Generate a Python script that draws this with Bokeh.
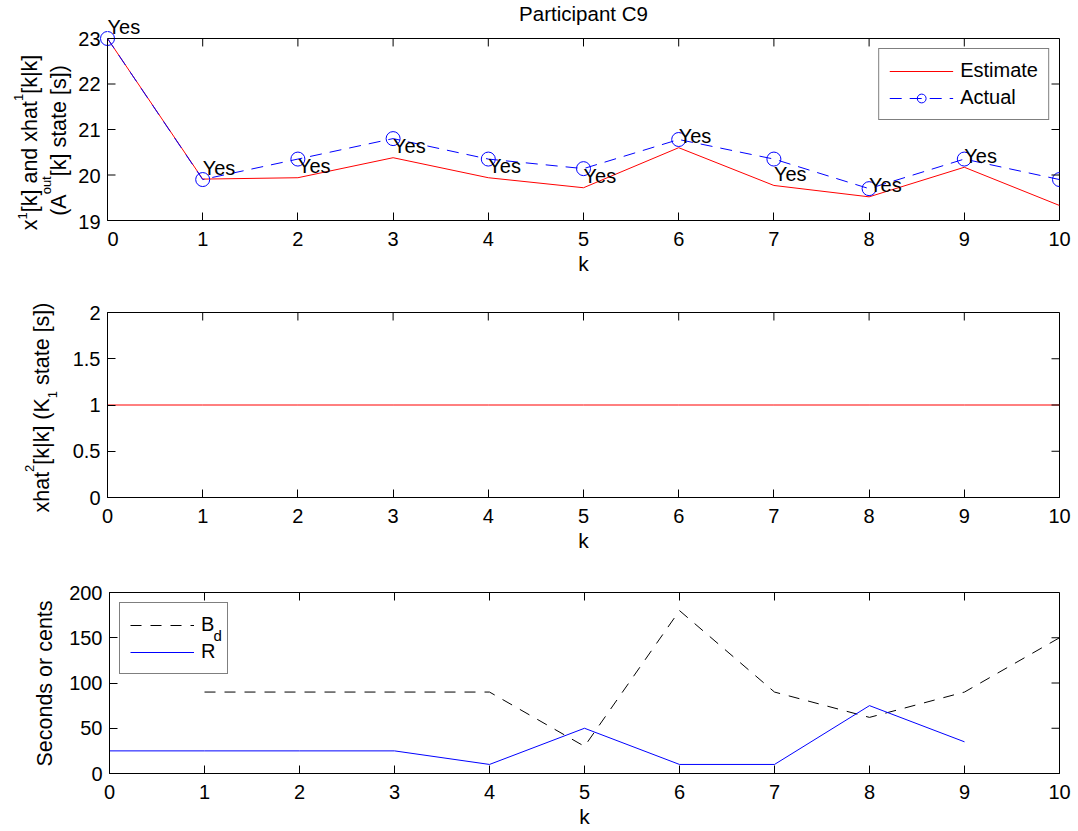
import math

from bokeh.plotting import figure
from bokeh.layouts import column, row
from bokeh.models import (ColumnDataSource, FixedTicker, Range1d, Legend,
                          LegendItem, CustomJSTickFormatter)
from bokeh.core.properties import value
from bokeh.embed import file_html
from bokeh.resources import INLINE

# ---------------------------------------------------------------- data
k = [0, 1, 2, 3, 4, 5, 6, 7, 8, 9, 10]
estimate = [23.0, 19.91, 19.94, 20.38, 19.94, 19.72, 20.60, 19.77, 19.52, 20.17, 19.33]
actual = [23.0, 19.90, 20.35, 20.80, 20.35, 20.14, 20.78, 20.35, 19.70, 20.35, 19.90]
answer_k = [0, 1, 2, 3, 4, 5, 6, 7, 8, 9]
answers = ["Yes", "Yes", "Yes", "Yes", "Yes", "Yes", "Yes", "Yes", "Yes", "Yes"]
answer_offset = 0.25          # answers are written just above the estimate

k1_state = [1, 1, 1, 1, 1, 1, 1, 1, 1, 1, 1]

bd_k = [1, 2, 3, 4, 5, 6, 7, 8, 9, 10]
bd = [90, 90, 90, 90, 30, 180, 90, 62, 90, 150]
r_k = [0, 1, 2, 3, 4, 5, 6, 7, 8, 9]
r = [25, 25, 25, 25, 10, 50, 10, 10, 75, 35]

x_ticks = [0, 1, 2, 3, 4, 5, 6, 7, 8, 9, 10]
y1_ticks = [19, 20, 21, 22, 23]
y1_labels = ["19", "20", "21", "22", "23"]
y2_ticks = [0, 0.5, 1, 1.5, 2]
y3_ticks = [0, 50, 100, 150, 200]

# ---------------------------------------------------------------- layout
W = 1078
FRAME_LEFT = 107           # left edge of every plotting frame
RIGHT = 19
FRAME_W = W - FRAME_LEFT - RIGHT
STRIP_H = 38               # strip above the first panel (title)
FONT = "Liberation Sans"
TICK_PX = "20px"
LABEL_PX = 21.5
SUP_PX = 13
TICK_LEN = 8
NBSP = "\u00a0"

# Arial / Liberation Sans advance widths (units per 1000 em)
ADV = {" ": 278, NBSP: 278, "(": 333, ")": 333, "1": 556, "2": 556, "A": 667,
       "B": 667, "K": 667, "S": 667, "[": 278, "]": 278, "a": 556, "c": 500,
       "d": 556, "e": 556, "h": 556, "k": 500, "n": 556, "o": 556, "r": 333,
       "s": 500, "t": 278, "u": 556, "x": 500, "|": 260}


def text_width(s, px):
    return sum(ADV[c] for c in s) * px / 1000.0


def plain(f):
    f.xgrid.visible = False
    f.ygrid.visible = False
    f.background_fill_color = "white"
    f.border_fill_color = "white"
    return f


def style_axis(ax):
    ax.major_tick_in = TICK_LEN
    ax.major_tick_out = 0
    ax.minor_tick_line_color = None
    ax.axis_line_color = "black"
    ax.major_tick_line_color = "black"
    ax.major_label_text_font = FONT
    ax.major_label_text_font_size = TICK_PX
    ax.major_label_text_color = "black"


def make_fig(lab_w, height, top, frame_h, yr, yticks, yfmt=None, own_yaxis=True):
    bottom = height - top - frame_h
    p = plain(figure(width=W - lab_w, height=height, x_range=Range1d(0, 10),
                     y_range=Range1d(*yr), output_backend="svg",
                     toolbar_location=None, frame_align=False,
                     y_axis_location="left" if own_yaxis else None,
                     min_border_left=FRAME_LEFT - lab_w, min_border_right=RIGHT,
                     min_border_top=top, min_border_bottom=bottom))
    p.outline_line_color = "black"
    p.outline_line_width = 1

    p.xaxis.ticker = FixedTicker(ticks=x_ticks)
    style_axis(p.xaxis[0])
    p.xaxis.major_label_standoff = 11
    p.xaxis.axis_label = "k"
    p.xaxis.axis_label_text_font = FONT
    p.xaxis.axis_label_text_font_size = "21px"
    p.xaxis.axis_label_text_font_style = "normal"
    p.xaxis.axis_label_text_color = "black"
    p.xaxis.axis_label_standoff = 3
    if own_yaxis:
        p.yaxis.ticker = FixedTicker(ticks=yticks)
        if yfmt is not None:
            p.yaxis.formatter = yfmt
        style_axis(p.yaxis[0])
        p.yaxis.major_label_standoff = 7
    return p


def box_ticks(p, yr, frame_h, yticks, left=False):
    """Inward tick marks on the top and right (and optionally left) edges."""
    y0, y1 = yr
    dy = TICK_LEN * (y1 - y0) / frame_h
    dx = TICK_LEN * 10.0 / FRAME_W
    p.segment(x0=x_ticks, y0=[y1] * len(x_ticks), x1=x_ticks,
              y1=[y1 - dy] * len(x_ticks), line_color="black", line_width=1)
    p.segment(x0=[10] * len(yticks), y0=yticks, x1=[10 - dx] * len(yticks),
              y1=yticks, line_color="black", line_width=1)
    if left:
        p.segment(x0=[0] * len(yticks), y0=yticks, x1=[dx] * len(yticks),
                  y1=yticks, line_color="black", line_width=1)


def label_fig(lab_w, height):
    f = plain(figure(width=lab_w, height=height, x_range=Range1d(0, lab_w),
                     y_range=Range1d(0, height), output_backend="svg",
                     toolbar_location=None, x_axis_location=None,
                     y_axis_location=None, min_border=0, frame_align=False))
    f.outline_line_color = None
    return f


def vertical_label(f, pieces, center_x, center_y, height):
    """Rotated text made of pieces (text, font px, shift toward the glyph tops)."""
    total = sum(text_width(t, fs) for t, fs, _ in pieces)
    y = (height - center_y) - total / 2.0
    for t, fs, rise in pieces:
        f.text(x=[center_x - rise], y=[y], text=[t], angle=math.pi / 2,
               text_font=value(FONT), text_font_size=value(f"{fs}px"),
               text_color="black", text_align="left", text_baseline="middle")
        y += text_width(t, fs)


def legend_for(items, location, fill_alpha=1.0, label_width=20):
    return Legend(items=items, location=location, margin=10, padding=10, spacing=4,
                  glyph_width=64, glyph_height=22, label_height=22, label_standoff=7,
                  label_width=label_width,
                  label_text_font=FONT, label_text_font_size="20px",
                  label_text_color="black",
                  border_line_color="black", border_line_width=1,
                  background_fill_color="white", background_fill_alpha=fill_alpha)


# ---------------------------------------------------------------- panel 1
H1 = 277
F1_H = 183
px_x = FRAME_W / 10.0
px_y = F1_H / 4.0
p1 = make_fig(FRAME_LEFT, H1 - STRIP_H, 0, F1_H, (19, 23), y1_ticks, own_yaxis=False)
src1 = ColumnDataSource(data=dict(k=k, estimate=estimate, actual=actual))
est_line = p1.line("k", "estimate", source=src1, line_color="#ff0000", line_width=1)
act_line = p1.line("k", "actual", source=src1, line_color="#0000ff", line_width=1,
                   line_dash="12 8")
act_pts = p1.scatter("k", "actual", source=src1, marker="circle", size=14,
                     fill_color=None, line_color="#0000ff", line_width=1)
box_ticks(p1, (19, 23), F1_H, y1_ticks, left=True)

ans_y = [estimate[i] + answer_offset for i in answer_k]
inside = [i for i, v in enumerate(ans_y) if v <= 23]
above = [i for i, v in enumerate(ans_y) if v > 23]
p1.text(x=[answer_k[i] for i in inside], y=[ans_y[i] for i in inside],
        text=[answers[i] for i in inside], text_font=value(FONT),
        text_font_size=value("20px"), text_color="black",
        text_align="left", text_baseline="middle")

p1.add_layout(legend_for([LegendItem(label="Estimate", renderers=[est_line]),
                          LegendItem(label="Actual", renderers=[act_line, act_pts])],
                         "top_right"))

# strip above panel 1 continues its data coordinates upward
strip = plain(figure(width=W - FRAME_LEFT, height=STRIP_H,
                     x_range=Range1d(0, 10 + RIGHT / px_x),
                     y_range=Range1d(23, 23 + STRIP_H / px_y),
                     output_backend="svg", toolbar_location=None, frame_align=False,
                     x_axis_location=None, y_axis_location=None, min_border=0))
strip.outline_line_color = None
strip.scatter("k", "actual", source=src1, marker="circle", size=14,
              fill_color=None, line_color="#0000ff", line_width=1)
strip.text(x=[answer_k[i] for i in above], y=[ans_y[i] for i in above],
           text=[answers[i] for i in above], text_font=value(FONT),
           text_font_size=value("20px"), text_color="black",
           text_align="left", text_baseline="middle")
strip.text(x=[5], y=[23 + (STRIP_H - 13) / px_y], text=["Participant C9"],
           text_font=value(FONT), text_font_size=value("20.5px"), text_color="black",
           text_align="center", text_baseline="middle")

# left column of panel 1: y tick labels and the two-line axis title (pixel units)
lab1 = label_fig(FRAME_LEFT, H1)


def to_lab1_y(v):
    return H1 - (STRIP_H + (23 - v) * px_y)


lab1.text(x=[FRAME_LEFT - 7] * len(y1_ticks), y=[to_lab1_y(v) for v in y1_ticks],
          text=y1_labels, text_font=value(FONT), text_font_size=value(TICK_PX),
          text_color="black", text_align="right", text_baseline="middle")
lab1.scatter(x=[FRAME_LEFT + v * px_x for v in k], y=[to_lab1_y(v) for v in actual],
             marker="circle", size=14, fill_color=None, line_color="#0000ff",
             line_width=1)
vertical_label(lab1, [("x", LABEL_PX, 0), ("1", SUP_PX, 7), ("[k] and xhat", LABEL_PX, 0),
                      ("1", SUP_PX, 11), ("[k|k]", LABEL_PX, 0)],
               center_x=29, center_y=142, height=H1)
vertical_label(lab1, [("(A", LABEL_PX, 0), ("out", SUP_PX, 12.5),
                      ("[k] state [s])", LABEL_PX, 0)],
               center_x=58, center_y=140, height=H1)

# ---------------------------------------------------------------- panel 2
LAB2 = 68
H2 = 277
fmt = CustomJSTickFormatter(code="return String(tick);")
p2 = make_fig(LAB2, H2, 35, 185, (0, 2), y2_ticks, yfmt=fmt)
src2 = ColumnDataSource(data=dict(k=k, v=k1_state))
p2.line("k", "v", source=src2, line_color="#ff0000", line_width=1)
box_ticks(p2, (0, 2), 185, y2_ticks)
lab2 = label_fig(LAB2, H2)
vertical_label(lab2, [("xhat", LABEL_PX, 0), ("2", SUP_PX, 13), ("[k|k] (K", LABEL_PX, 0),
                      ("1", SUP_PX, -10), (NBSP + "state [s])", LABEL_PX, 0)],
               center_x=41.5, center_y=130, height=H2)

# ---------------------------------------------------------------- panel 3
LAB3 = 66
H3 = 277
p3 = make_fig(LAB3, H3, 38, 181, (0, 200), y3_ticks)
bd_src = ColumnDataSource(data=dict(k=bd_k, v=bd))
r_src = ColumnDataSource(data=dict(k=r_k, v=r))
bd_line = p3.line("k", "v", source=bd_src, line_color="black", line_width=1,
                  line_dash="11 9")
r_line = p3.line("k", "v", source=r_src, line_color="#0000ff", line_width=1)
box_ticks(p3, (0, 200), 181, y3_ticks)
p3.add_layout(legend_for([LegendItem(label="B", renderers=[bd_line]),
                          LegendItem(label="R", renderers=[r_line])], "top_left",
                         fill_alpha=0.0, label_width=16))
# subscript of the B_d entry, placed after the "B" of the legend
sub_dx = 10 + 10 + 64 + 7 + text_width("B", 20)
sub_dy = 10 + 10 + 11 + 12
p3.text(x=[sub_dx * 10.0 / FRAME_W], y=[200 - sub_dy * 200.0 / 181], text=["d"],
        text_font=value(FONT), text_font_size=value("15px"), text_color="black",
        text_align="left", text_baseline="middle")
lab3 = label_fig(LAB3, H3)
vertical_label(lab3, [("Seconds or cents", LABEL_PX, 0)],
               center_x=44, center_y=129, height=H3)

layout = column(row(lab1, column(strip, p1, spacing=0), spacing=0),
                row(lab2, p2, spacing=0),
                row(lab3, p3, spacing=0), spacing=0)
open("out.html", "w").write(file_html(layout, INLINE))
